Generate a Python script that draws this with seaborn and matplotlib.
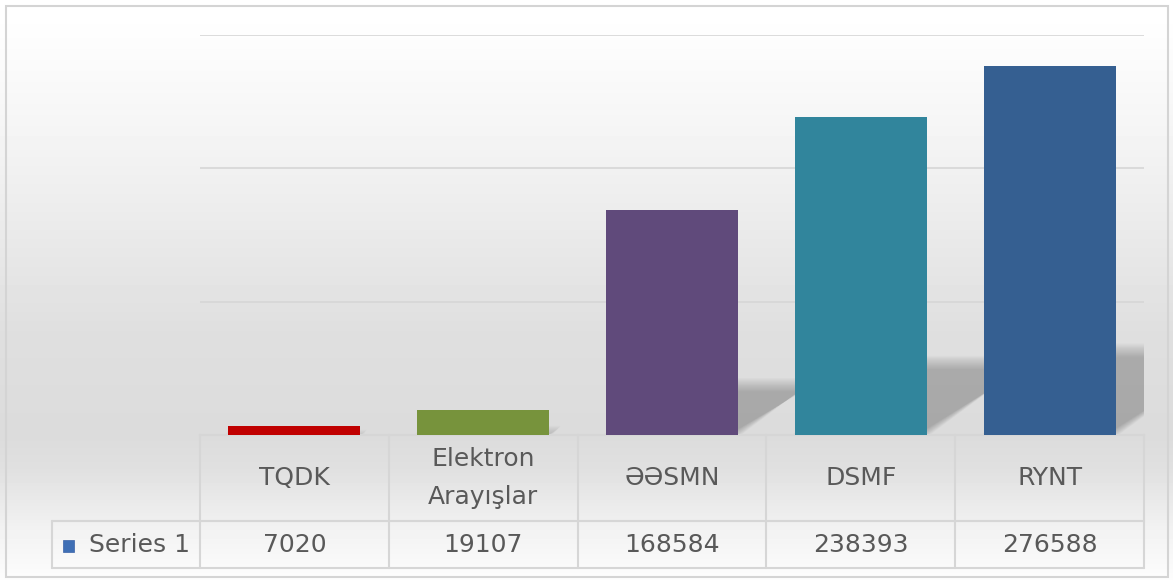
import numpy as np
import matplotlib
matplotlib.use("Agg")
import matplotlib.pyplot as plt
import seaborn as sns
from matplotlib.patches import Rectangle, Polygon

# data
categories = ["TQDK", "Elektron\nArayışlar", "ƏƏSMN", "DSMF", "RYNT"]
values = [7020, 19107, 168584, 238393, 276588]
table_values = ["7020", "19107", "168584", "238393", "276588"]
series_name = "Series 1"
bar_colors = ["#c00000", "#77933c", "#604a7b", "#31859c", "#355f91"]

W, H = 1173, 580
sns.set_style("white")
plt.rcParams["font.family"] = ["DejaVu Sans"]
text_color = "#595959"
line_color = "#d6d6d6"
fs = 18

fig = plt.figure(figsize=(W / 100, H / 100), dpi=100)

# gradient background (white at top, gray near baseline, lighter at bottom)
rows = np.arange(H)
shade = np.interp(rows, [0, 30, 150, 330, 435, 470, 530, 580],
                  [1.0, 0.995, 0.952, 0.875, 0.86, 0.88, 0.95, 0.99])
grad = np.repeat(shade[:, None], 10, axis=1)
bg = fig.add_axes([0, 0, 1, 1])
bg.imshow(grad, aspect="auto", extent=[0, 1, 0, 1], cmap="gray", vmin=0, vmax=1, zorder=0)
bg.set_xlim(0, 1)
bg.set_ylim(0, 1)
bg.axis("off")
bg.add_patch(Rectangle((6 / W, 3 / H), (1168 - 6) / W, (574 - 3) / H, fill=False,
                       ec="#d4d4d4", lw=1.5, transform=fig.transFigure))

# plot area
ax = fig.add_axes([200 / W, (H - 435) / H, 944 / W, 400 / H])
ax.set_facecolor("none")
sns.barplot(x=list(range(len(values))), y=values, hue=list(range(len(values))),
            palette=bar_colors, legend=False, width=0.7, saturation=1,
            linewidth=0, ax=ax, zorder=3)
ax.set_xlim(-0.5, 4.5)
ax.set_ylim(0, 300000)
ax.set_yticks([0, 100000, 200000, 300000])
ax.yaxis.grid(True, color=line_color, lw=1.2, zorder=0)
ax.set_axisbelow(True)
ax.tick_params(left=False, bottom=False, labelleft=False, labelbottom=False)
for s in ax.spines.values():
    s.set_visible(False)
ax.set_xlabel("")
ax.set_ylabel("")

# soft perspective shadows cast behind the bars (stacked translucent layers)
px_x = 5 / 944             # data units per pixel in x
px_y = 300000 / 400        # data units per pixel in y
for i, v in enumerate(values):
    hs = 0.24 * v
    d = 1.4 * (hs / px_y) * px_x
    xl, xr = i - 0.35, i + 0.35
    for k in range(12):
        s = k * 1.2 - 3
        sx, sy = s * px_x, s * px_y
        top = max(hs - sy, 0)
        pts = [(xl + sx, 0), (xr - sx, 0), (xr + d - sx, top), (xl + d + sx, top)]
        ax.add_patch(Polygon(pts, closed=True, fc="black", ec="none", alpha=0.021, zorder=1))

# data table below the bars
trans = ax.get_xaxis_transform()
col_w = 944 / 5
left_x = -0.5 - (200 - 52) / col_w
y_head = -86 / 400
y_bot = -133 / 400
kw = dict(color=line_color, lw=1.5, transform=trans, clip_on=False)
ax.plot([-0.5, 4.5], [0, 0], **kw)
ax.plot([left_x, 4.5], [y_head, y_head], **kw)
ax.plot([left_x, 4.5], [y_bot, y_bot], **kw)
for i in range(6):
    ax.plot([i - 0.5, i - 0.5], [0, y_bot], **kw)
ax.plot([left_x, left_x], [y_head, y_bot], **kw)

for i, (cat, val) in enumerate(zip(categories, table_values)):
    ax.text(i, y_head / 2, cat, ha="center", va="center", fontsize=fs,
            color=text_color, linespacing=1.7, transform=trans)
    ax.text(i, (y_head + y_bot) / 2, val, ha="center", va="center", fontsize=fs,
            color=text_color, transform=trans)

# series legend key in the table
fig.patches.append(Rectangle((63 / W, 1 - 552 / H), 11 / W, 12 / H, fc="#3f6fb5",
                             ec="#3a62a8", lw=0.5, transform=fig.transFigure))
fig.text(89 / W, 1 - 544.5 / H, series_name, ha="left", va="center", fontsize=fs,
         color=text_color)

fig.savefig("out.png", dpi=100)
